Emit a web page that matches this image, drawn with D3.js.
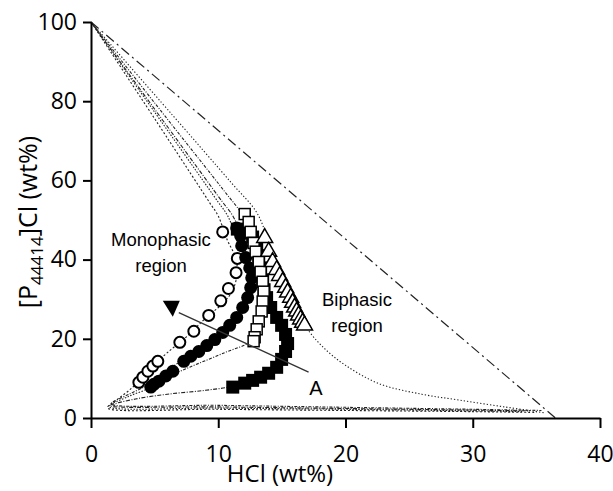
<!DOCTYPE html>
<html>
<head>
<meta charset="utf-8">
<script src="https://cdn.jsdelivr.net/npm/d3@7"></script>
<style>
  body { margin: 0; background: #fff; }
  svg { display: block; }
  .tick text { font-family: "Liberation Sans Narrow", "Open Sans", sans-serif; font-size: 23px; fill: #000; }
  .lbl { font-family: "Liberation Sans", Arial, sans-serif; font-size: 18.5px; fill: #000; }
</style>
</head>
<body>
<svg id="chart" width="613" height="491"></svg>
<script>
// axis ticks
var xTicks = [0, 10, 20, 30, 40];
var yTicks = [0, 20, 40, 60, 80, 100];

// experimental points, [HCl wt%, [P44414]Cl wt%]
var openCircles = [[3.76, 9.0], [4.08, 10.3], [4.47, 11.8], [4.86, 13.1], [5.25, 14.3], [6.98, 19.1],
  [8.08, 21.9], [9.25, 25.9], [10.2, 29.6], [10.8, 32.7], [11.4, 36.7], [11.5, 40.3], [10.35, 47.0]];
var filledCircles = [[4.7, 7.8], [4.94, 8.5], [5.33, 9.3], [5.88, 10.6], [6.43, 11.8], [7.29, 14.3],
  [7.84, 15.6], [8.47, 16.8], [9.1, 18.3], [9.73, 19.8], [10.35, 21.6], [10.9, 23.4], [11.45, 25.4],
  [11.92, 27.9], [12.31, 30.4], [12.55, 32.9], [12.63, 35.4], [12.47, 37.9], [12.16, 40.5],
  [11.84, 43.5], [11.76, 46.0], [11.45, 48.0]];
var filledSquares = [[11.14, 7.8], [12.08, 8.8], [12.7, 9.5], [13.33, 10.3], [13.96, 11.3], [14.59, 12.8],
  [14.98, 14.8], [15.29, 16.8], [15.45, 18.8], [15.29, 21.1], [14.98, 23.4], [14.59, 25.4],
  [14.12, 27.9], [13.8, 30.4], [13.6, 32.4], [13.49, 34.9], [13.33, 37.9], [13.18, 41.0],
  [13.02, 43.7], [12.7, 45.7], [12.08, 47.0], [11.5, 47.7]];
var openSquares = [[12.08, 51.5], [12.39, 49.5], [12.55, 47.0], [12.78, 44.2], [12.94, 42.0], [13.18, 39.4],
  [13.33, 36.9], [13.49, 34.4], [13.57, 31.9], [13.49, 29.4], [13.41, 26.9], [13.18, 24.4],
  [13.02, 22.4], [12.86, 20.4], [12.78, 19.4]];
var openTriangles = [[13.65, 45.5], [13.96, 42.0], [14.27, 39.4], [14.59, 37.4], [14.82, 35.9], [15.06, 34.4],
  [15.29, 32.9], [15.45, 31.7], [15.69, 30.4], [15.84, 29.1], [16.0, 27.9], [16.16, 26.9],
  [16.31, 25.9], [16.47, 24.9], [16.63, 24.1], [16.78, 23.4]];

// fitted binodal curves
var fitTriangles = [[0, 100], [6.4, 76.5], [11, 59.5], [13, 52], [13.8, 46], [14.4, 40], [15.1, 34.5],
  [15.8, 30], [16.4, 26], [17, 22.5], [18.2, 18], [20, 13.3], [22.7, 8.6], [26, 6], [29, 4.5],
  [32.5, 2.8], [35.7, 1.3]];
var fitOpenSquares = [[0, 100], [6, 75.5], [10.5, 57.2], [11.9, 51.3], [12.5, 47], [12.9, 42], [13.3, 37],
  [13.55, 32], [13.45, 27], [13.1, 23], [12.6, 19.5], [10.5, 16.5], [7.8, 12.9], [5, 9], [3, 6],
  [1.6, 3.6], [10, 3.2], [20, 2.7], [30, 2.2], [35.4, 1.9]];
var fitFilledSquares = [[0, 100], [6, 73.6], [10.3, 54.7], [11.1, 51.3], [11.7, 47.5], [12.4, 44.5],
  [13, 41], [13.3, 37.5], [13.6, 33], [14.2, 29], [14.9, 25], [15.4, 21], [15.45, 18], [15.1, 14.8],
  [14.3, 12], [13, 10], [11.3, 8.1], [9, 7], [6, 6], [3.5, 4.8], [1.5, 3.1], [10, 2.8], [20, 2.4],
  [30, 2.0], [34.5, 1.8]];
var fitFilledCircles = [[0, 100], [6, 72.7], [10, 54.5], [10.7, 51.3], [11.3, 47], [11.8, 44], [12.2, 40],
  [12.6, 35], [12.6, 31], [12.2, 28.5], [11.5, 25.5], [10.4, 21.8], [9, 18.5], [7.5, 15.2],
  [6, 12], [4.8, 8], [3, 5.5], [1.4, 2.9], [10, 2.5], [20, 2.2], [30, 1.8], [34, 1.6]];
var fitOpenCircles = [[0, 100], [6, 70.7], [9.3, 54.5], [10, 51], [10.7, 45], [11.3, 41], [11.5, 37],
  [11.1, 32], [10.2, 28.5], [9, 25.2], [7.5, 20.5], [6, 16.5], [5, 13.5], [4, 10], [3, 7],
  [2, 4.5], [1.3, 2.6], [10, 2.2], [20, 1.9], [30, 1.6], [35, 1.4]];
// HCl solubility limit line
var limitLine = [[0, 100], [36.5, 0]];
// arrow A
var arrowLine = [[17.1, 11.6], [6.9, 26.6]];

var svg = d3.select('#chart');
var x = d3.scaleLinear().domain([0, 40]).range([91, 600]);
var y = d3.scaleLinear().domain([0, 100]).range([418, 22]);

var line = d3.line().x(function(d) { return x(d[0]); }).y(function(d) { return y(d[1]); })
  .curve(d3.curveCatmullRom.alpha(0.5));
var straight = d3.line().x(function(d) { return x(d[0]); }).y(function(d) { return y(d[1]); });

// fitted curves
var fits = [
  [fitTriangles, '1.3,2'],
  [fitOpenSquares, '3,1.5,1,1.5'],
  [fitFilledSquares, '4,1.5,1,1.5'],
  [fitFilledCircles, '1.5,1.5'],
  [fitOpenCircles, '2,2']
];
fits.forEach(function(f) {
  svg.append('path').attr('d', line(f[0]))
    .attr('fill', 'none').attr('stroke', '#222').attr('stroke-width', 1.1)
    .attr('stroke-dasharray', f[1]);
});

svg.append('path').attr('d', straight(limitLine))
  .attr('fill', 'none').attr('stroke', '#222').attr('stroke-width', 1.2)
  .attr('stroke-dasharray', '10,4,2,4');

// axes
var xAxis = d3.axisBottom(x).tickValues(xTicks).tickSize(10).tickSizeOuter(0).tickPadding(18);
var yAxis = d3.axisLeft(y).tickValues(yTicks).tickSize(8).tickSizeOuter(0).tickPadding(6);
var gx = svg.append('g').attr('transform', 'translate(0,' + y(0) + ')').call(xAxis);
var gy = svg.append('g').attr('transform', 'translate(' + x(0) + ',0)').call(yAxis);
[gx, gy].forEach(function(g) {
  g.selectAll('path, line').attr('stroke', '#000').attr('stroke-width', 2);
});

// markers
svg.selectAll('.oc').data(openCircles).enter().append('circle')
  .attr('cx', function(d) { return x(d[0]); }).attr('cy', function(d) { return y(d[1]); })
  .attr('r', 5.5).attr('fill', '#fff').attr('stroke', '#000').attr('stroke-width', 2);

svg.selectAll('.fc').data(filledCircles).enter().append('circle')
  .attr('cx', function(d) { return x(d[0]); }).attr('cy', function(d) { return y(d[1]); })
  .attr('r', 6.5).attr('fill', '#000');

svg.selectAll('.fs').data(filledSquares).enter().append('rect')
  .attr('x', function(d) { return x(d[0]) - 6.5; }).attr('y', function(d) { return y(d[1]) - 6.5; })
  .attr('width', 13).attr('height', 13).attr('fill', '#000');

svg.selectAll('.os').data(openSquares).enter().append('rect')
  .attr('x', function(d) { return x(d[0]) - 5.5; }).attr('y', function(d) { return y(d[1]) - 5.5; })
  .attr('width', 11).attr('height', 11).attr('fill', '#fff').attr('stroke', '#000').attr('stroke-width', 1.5);

var tri = d3.symbol().type(d3.symbolTriangle).size(110);
svg.selectAll('.ot').data(openTriangles).enter().append('path')
  .attr('d', tri)
  .attr('transform', function(d) { return 'translate(' + x(d[0]) + ',' + y(d[1]) + ')'; })
  .attr('fill', '#fff').attr('stroke', '#000').attr('stroke-width', 1.5);

// arrow A
svg.append('path').attr('d', straight(arrowLine))
  .attr('stroke', '#333').attr('stroke-width', 1.3).attr('fill', 'none');
var ax = x(arrowLine[1][0]), ay = y(arrowLine[1][1]);
svg.append('path')
  .attr('d', 'M' + (ax - 16) + ',' + (ay - 12) + 'L' + (ax + 1) + ',' + (ay - 12) + 'L' + (ax - 6) + ',' + (ay + 4) + 'Z')
  .attr('fill', '#000');
svg.append('text').attr('class', 'lbl').attr('x', 316).attr('y', 395)
  .attr('text-anchor', 'middle').style('font-size', '20px').text('A');

// region labels
svg.append('text').attr('class', 'lbl').attr('x', 161).attr('y', 246).attr('text-anchor', 'middle').text('Monophasic');
svg.append('text').attr('class', 'lbl').attr('x', 161).attr('y', 272).attr('text-anchor', 'middle').text('region');
svg.append('text').attr('class', 'lbl').attr('x', 357).attr('y', 306).attr('text-anchor', 'middle').text('Biphasic');
svg.append('text').attr('class', 'lbl').attr('x', 357).attr('y', 332).attr('text-anchor', 'middle').text('region');

// axis titles
svg.append('text').attr('x', 280).attr('y', 482).attr('text-anchor', 'middle')
  .style('font-family', '"Liberation Sans Narrow", "Open Sans", sans-serif').style('font-size', '24px')
  .text('HCl (wt%)');

var yt = svg.append('text').attr('transform', 'translate(37,222) rotate(-90)').attr('text-anchor', 'middle')
  .style('font-family', '"Liberation Sans Narrow", "Open Sans", sans-serif').style('font-size', '25px');
yt.append('tspan').text('[P');
yt.append('tspan').attr('dy', 6).style('font-size', '17px').text('44414');
yt.append('tspan').attr('dy', -6).text(']Cl (wt%)');
</script>
</body>
</html>
